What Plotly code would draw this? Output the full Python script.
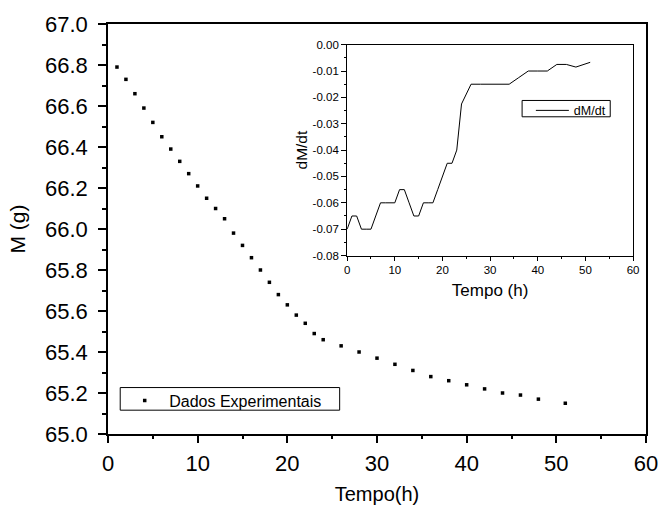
import plotly.graph_objects as go

# Main data: mass vs time
tempo = [1, 2, 3, 4, 5, 6, 7, 8, 9, 10, 11, 12, 13, 14, 15, 16, 17, 18, 19, 20,
         21, 22, 23, 24, 26, 28, 30, 32, 34, 36, 38, 40, 42, 44, 46, 48, 51]
massa = [66.79, 66.73, 66.66, 66.59, 66.52, 66.45, 66.39, 66.33, 66.27, 66.21,
         66.15, 66.10, 66.05, 65.98, 65.92, 65.86, 65.80, 65.74, 65.68, 65.63,
         65.58, 65.54, 65.49, 65.46, 65.43, 65.40, 65.37, 65.34, 65.31, 65.28,
         65.26, 65.24, 65.22, 65.20, 65.19, 65.17, 65.15]

# Inset data: dM/dt
tempo_d = [0, 1, 2, 3, 4, 5, 6, 7, 8, 9, 10, 11, 12, 13, 14, 15, 16, 17, 18, 19,
           20, 21, 22, 23, 24, 26, 28, 30, 32, 34, 36, 38, 40, 42, 44, 46, 48, 51]
dmdt = [-0.070, -0.065, -0.065, -0.070, -0.070, -0.070, -0.065, -0.060, -0.060, -0.060,
        -0.060, -0.055, -0.055, -0.060, -0.065, -0.065, -0.060, -0.060, -0.060, -0.055,
        -0.050, -0.045, -0.045, -0.040, -0.0225, -0.015, -0.015, -0.015, -0.015, -0.015,
        -0.0125, -0.010, -0.010, -0.010, -0.0075, -0.0075, -0.0085, -0.0067]

main_yticks = [65.0, 65.2, 65.4, 65.6, 65.8, 66.0, 66.2, 66.4, 66.6, 66.8, 67.0]
main_ylabels = ["65.0", "65.2", "65.4", "65.6", "65.8", "66.0", "66.2", "66.4", "66.6", "66.8", "67.0"]
inset_yticks = [0.00, -0.01, -0.02, -0.03, -0.04, -0.05, -0.06, -0.07, -0.08]
inset_ylabels = ["0.00", "-0.01", "-0.02", "-0.03", "-0.04", "-0.05", "-0.06", "-0.07", "-0.08"]

FONT = "Liberation Sans, Arial, sans-serif"

fig = go.Figure()
fig.add_trace(go.Scatter(
    x=tempo, y=massa, mode="markers", name="Dados Experimentais",
    marker=dict(symbol="square", size=3.5, color="black"),
    xaxis="x", yaxis="y", legend="legend"))
fig.add_trace(go.Scatter(
    x=tempo_d, y=dmdt, mode="lines", name="dM/dt",
    line=dict(color="black", width=1),
    xaxis="x2", yaxis="y2", legend="legend2"))

fig.update_layout(
    width=670, height=514,
    margin=dict(l=108, r=16, t=24, b=73),
    paper_bgcolor="white", plot_bgcolor="white",
    font=dict(family=FONT, color="black", size=20),
    xaxis=dict(
        range=[0, 60], dtick=10, tick0=0,
        showline=True, linecolor="black", linewidth=1.5, mirror=True,
        ticks="outside", ticklen=7, tickwidth=1.5, tickcolor="black",
        minor=dict(ticks="outside", dtick=5, ticklen=3, tickwidth=1.5, tickcolor="black"),
        showgrid=False, zeroline=False,
        tickfont=dict(size=22), ticklabelstandoff=2,
        title=dict(text="Tempo(h)", font=dict(size=20), standoff=12),
        domain=[0, 1], anchor="y"),
    yaxis=dict(
        range=[65.0, 67.0], tickvals=main_yticks, ticktext=main_ylabels,
        showline=True, linecolor="black", linewidth=1.5, mirror=True,
        ticks="outside", ticklen=8, tickwidth=1.5, tickcolor="black",
        minor=dict(ticks="outside", dtick=0.1, ticklen=4, tickwidth=1.5, tickcolor="black"),
        showgrid=False, zeroline=False,
        tickfont=dict(size=22), ticklabelstandoff=6,
        title=dict(text="M (g)", font=dict(size=21), standoff=14),
        domain=[0, 1], anchor="x"),
    xaxis2=dict(
        range=[0, 60], dtick=10, tick0=0,
        showline=True, linecolor="black", linewidth=1, mirror=True,
        ticks="outside", ticklen=4, tickwidth=1, tickcolor="black",
        minor=dict(ticks="outside", dtick=5, ticklen=2, tickwidth=1, tickcolor="black"),
        showgrid=False, zeroline=False,
        tickfont=dict(size=11.5),
        title=dict(text="Tempo (h)", font=dict(size=17), standoff=8),
        domain=[0.4445, 0.976], anchor="y2"),
    yaxis2=dict(
        range=[-0.08, 0.0], tickvals=inset_yticks, ticktext=inset_ylabels,
        showline=True, linecolor="black", linewidth=1, mirror=True,
        ticks="outside", ticklen=5, tickwidth=1, tickcolor="black",
        minor=dict(ticks="outside", dtick=0.005, ticklen=2, tickwidth=1, tickcolor="black"),
        showgrid=False, zeroline=False,
        tickfont=dict(size=11.5),
        title=dict(text="dM/dt", font=dict(size=15.5), standoff=1),
        domain=[0.4353, 0.9496], anchor="x2"),
    legend=dict(
        x=0.0227, y=0.123, xanchor="left", yanchor="top",
        borderwidth=0, bgcolor="rgba(0,0,0,0)",
        font=dict(size=16), itemwidth=39),
    legend2=dict(
        x=0.786, y=0.825, xanchor="left", yanchor="top",
        borderwidth=0, bgcolor="rgba(0,0,0,0)",
        font=dict(size=12.5), itemwidth=33),
    showlegend=True,
    shapes=[
        dict(type="rect", xref="paper", yref="paper",
             x0=0.0227, x1=0.4306, y0=0.0581, y1=0.1133,
             line=dict(color="black", width=1), fillcolor="rgba(0,0,0,0)", layer="above"),
        dict(type="rect", xref="paper", yref="paper",
             x0=0.7697, x1=0.9335, y0=0.7737, y1=0.8135,
             line=dict(color="black", width=1), fillcolor="rgba(0,0,0,0)", layer="above"),
    ],
)

fig.write_html("out.html")
